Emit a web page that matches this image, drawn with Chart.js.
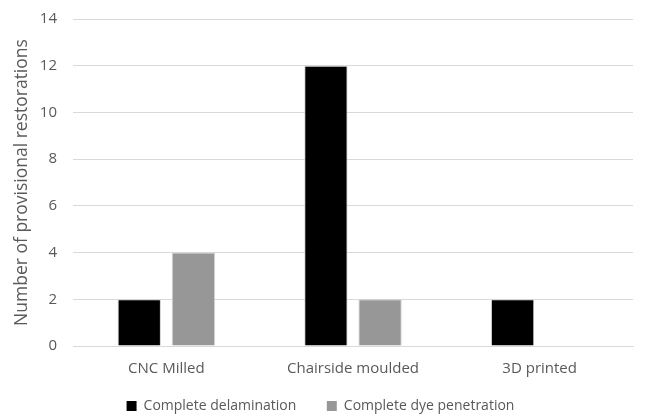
<!DOCTYPE html>
<html>
<head>
<meta charset="utf-8">
<script src="https://cdn.jsdelivr.net/npm/chart.js@4"></script>
<style>
  html, body { margin: 0; padding: 0; background: #fff; }
  #wrap { width: 657px; height: 414px; }
</style>
</head>
<body>
<div id="wrap"><canvas id="chart"></canvas></div>
<script>
const categories = ['CNC Milled', 'Chairside moulded', '3D printed'];
const delamination = [2, 12, 2];
const dyePenetration = [4, 2, 0];
const yTicks = [0, 2, 4, 6, 8, 10, 12, 14];

const textColor = '#595959';
const fontFamily = 'Open Sans';

new Chart(document.getElementById('chart'), {
  type: 'bar',
  data: {
    labels: categories,
    datasets: [
      {
        label: 'Complete delamination',
        data: delamination,
        backgroundColor: '#000000',
        borderColor: '#cfcfcf',
        borderWidth: 1
      },
      {
        label: 'Complete dye penetration',
        data: dyePenetration,
        backgroundColor: '#979797',
        borderColor: '#d0d0d0',
        borderWidth: 1
      }
    ]
  },
  options: {
    responsive: true,
    maintainAspectRatio: false,
    animation: false,
    layout: { padding: { top: 0, right: 24, bottom: -9, left: 8 } },
    datasets: {
      bar: { categoryPercentage: 0.58, barPercentage: 0.8 }
    },
    scales: {
      x: {
        grid: { display: false, drawTicks: false },
        border: { color: '#d9d9d9' },
        ticks: { color: textColor, font: { family: fontFamily, size: 15 }, padding: 14 },
        afterFit: (scale) => { scale.height = 48; }
      },
      y: {
        min: 0,
        max: 14,
        afterBuildTicks: (axis) => { axis.ticks = yTicks.map(v => ({ value: v })); },
        grid: { color: '#d9d9d9', drawTicks: true, tickLength: 6, tickColor: 'rgba(0,0,0,0)' },
        border: { display: false },
        ticks: { color: textColor, font: { family: fontFamily, size: 15 }, padding: 10 },
        title: {
          display: true,
          text: 'Number of provisional restorations',
          color: textColor,
          font: { family: fontFamily, size: 17.5 }
        },
        afterFit: (scale) => { scale.width = 65; }
      }
    },
    plugins: {
      legend: {
        position: 'bottom',
        labels: {
          color: textColor,
          font: { family: fontFamily, size: 14 },
          boxWidth: 10,
          boxHeight: 10,
          padding: 5,
          generateLabels: (chart) => {
            const items = Chart.defaults.plugins.legend.labels.generateLabels(chart);
            items[0].text = items[0].text + '       ';
            items.forEach(it => { it.lineWidth = 0; });
            return items;
          }
        }
      },
      tooltip: { enabled: false }
    }
  }
});
</script>
</body>
</html>
